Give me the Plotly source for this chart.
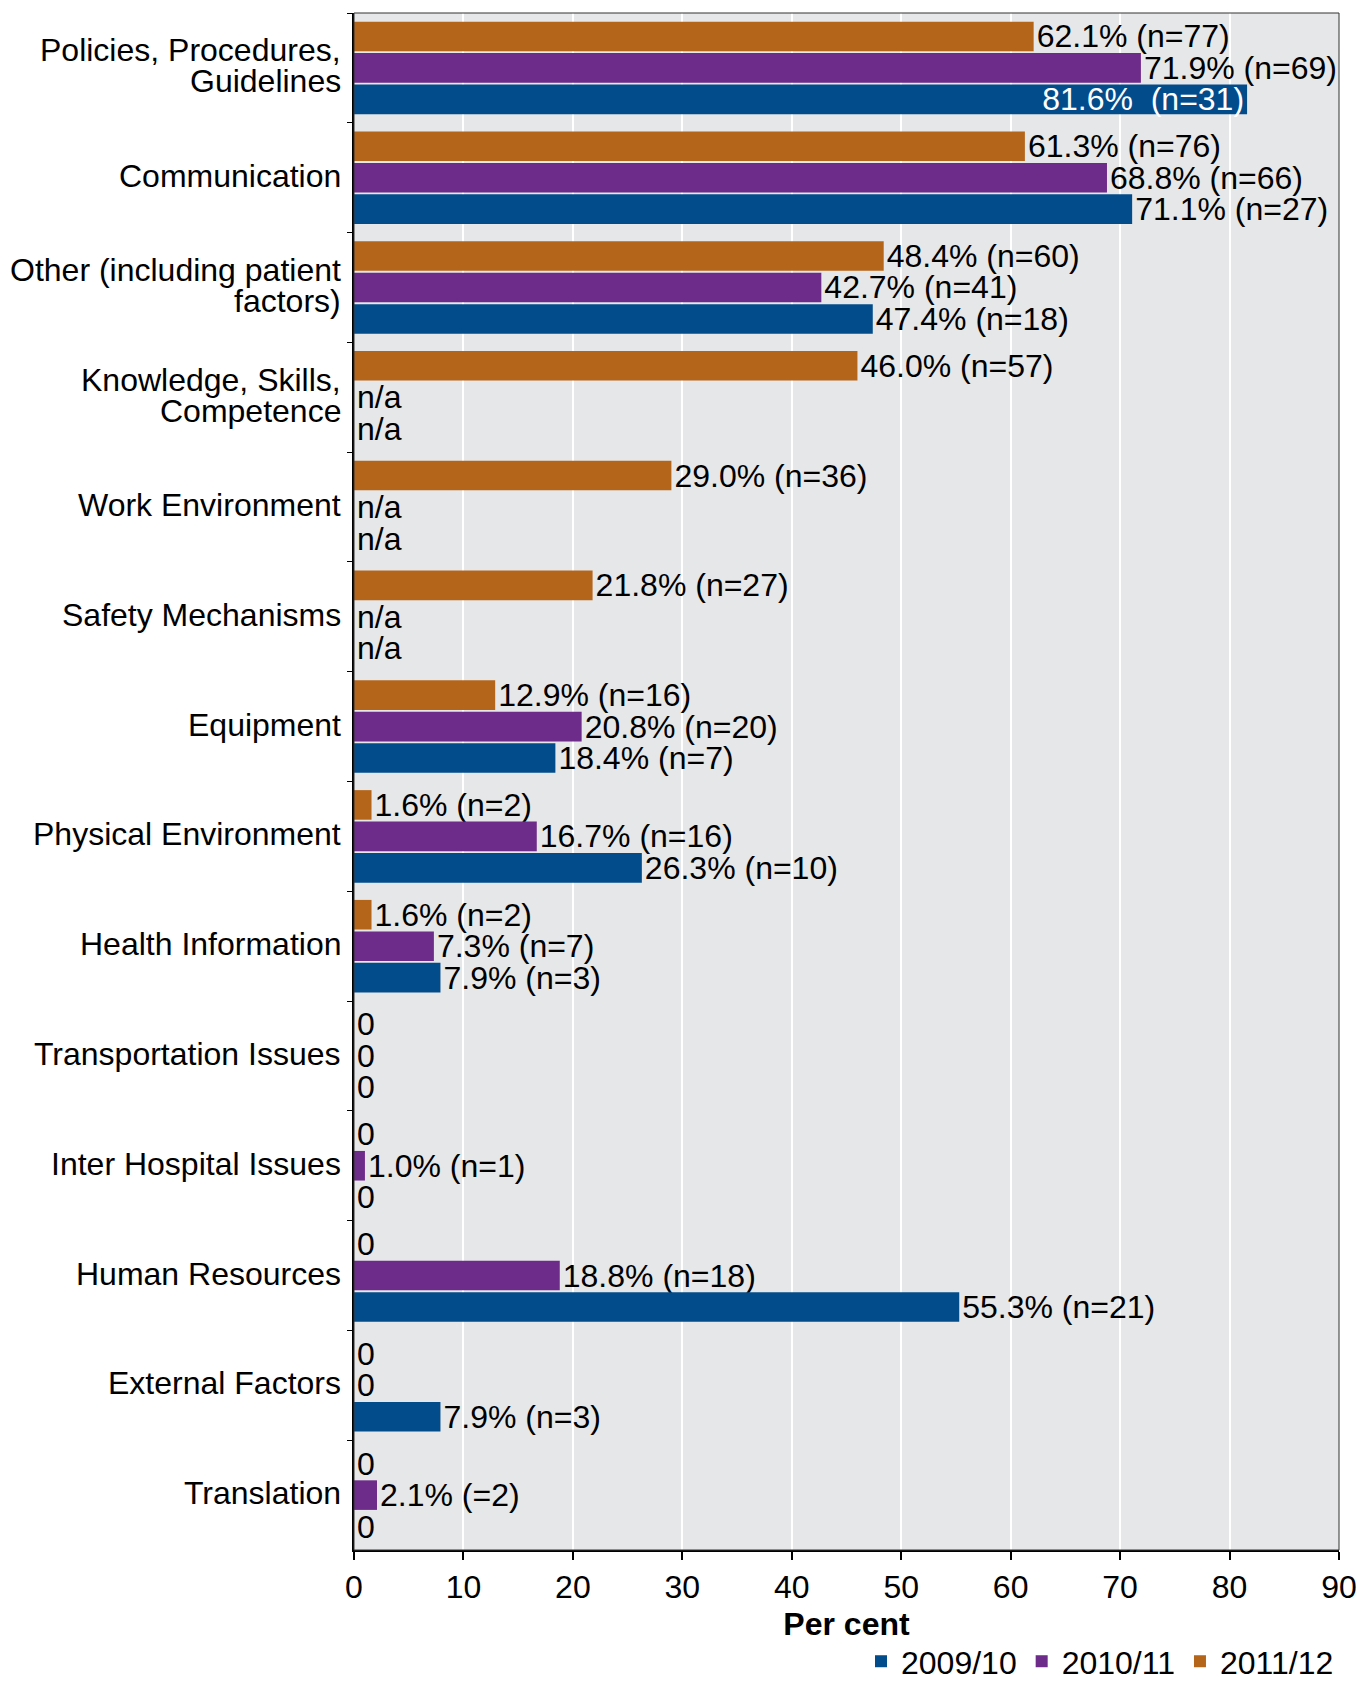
import plotly.graph_objects as go

categories = [
    "Policies, Procedures,<br>Guidelines",
    "Communication",
    "Other (including patient<br>factors)",
    "Knowledge, Skills,<br>Competence",
    "Work Environment",
    "Safety Mechanisms",
    "Equipment",
    "Physical Environment",
    "Health Information",
    "Transportation Issues",
    "Inter Hospital Issues",
    "Human Resources",
    "External Factors",
    "Translation",
]

vals_2011 = [62.1, 61.3, 48.4, 46.0, 29.0, 21.8, 12.9, 1.6, 1.6, 0, 0, 0, 0, 0]
text_2011 = ["62.1% (n=77)", "61.3% (n=76)", "48.4% (n=60)", "46.0% (n=57)", "29.0% (n=36)",
             "21.8% (n=27)", "12.9% (n=16)", "1.6% (n=2)", "1.6% (n=2)", "0", "0", "0", "0", "0"]

vals_2010 = [71.9, 68.8, 42.7, 0, 0, 0, 20.8, 16.7, 7.3, 0, 1.0, 18.8, 0, 2.1]
text_2010 = ["71.9% (n=69)", "68.8% (n=66)", "42.7% (n=41)", "n/a", "n/a", "n/a", "20.8% (n=20)",
             "16.7% (n=16)", "7.3% (n=7)", "0", "1.0% (n=1)", "18.8% (n=18)", "0", "2.1% (=2)"]

vals_2009 = [81.6, 71.1, 47.4, 0, 0, 0, 18.4, 26.3, 7.9, 0, 0, 55.3, 7.9, 0]
text_2009 = ["81.6%  (n=31)", "71.1% (n=27)", "47.4% (n=18)", "n/a", "n/a", "n/a", "18.4% (n=7)",
             "26.3% (n=10)", "7.9% (n=3)", "0", "0", "55.3% (n=21)", "7.9% (n=3)", "0"]

years = ["2009/10", "2010/11", "2011/12"]
colors = {"2009/10": "#024c8c", "2010/11": "#6d2b8a", "2011/12": "#b5651a"}

FONT = "Liberation Sans, Arial, sans-serif"
FS = 32

fig = go.Figure()

series = [("2011/12", vals_2011, text_2011), ("2010/11", vals_2010, text_2010), ("2009/10", vals_2009, text_2009)]
for name, vals, texts in series:
    positions = []
    for i, t in enumerate(texts):
        if name == "2009/10" and i == 0:
            positions.append("inside")
        else:
            positions.append("outside")
    fig.add_trace(go.Bar(
        y=categories, x=vals, name=name, orientation="h",
        marker=dict(color=colors[name], line=dict(width=0)),
        text=texts, textposition=positions, insidetextanchor="end",
        outsidetextfont=dict(family=FONT, size=FS, color="black"),
        insidetextfont=dict(family=FONT, size=FS, color="white"),
        constraintext="none", cliponaxis=False,
    ))

# category labels as annotations (tight line spacing like the reference)
annotations = []
for cat in categories:
    lines = cat.split("<br>")
    n = len(lines)
    for j, line in enumerate(lines):
        shift = (j - (n - 1) / 2) * 31
        annotations.append(dict(
            x=0, xref="paper", xanchor="right", xshift=-11,
            y=cat, yref="y", yanchor="middle", yshift=-shift + 2,
            text=line, showarrow=False, align="right",
            font=dict(family=FONT, size=FS, color="black"),
        ))

fig.update_layout(
    width=1357, height=1682,
    barmode="group", bargap=0.14, bargroupgap=0.06,
    plot_bgcolor="#e6e7e8", paper_bgcolor="white",
    margin=dict(l=354, r=18, t=13, b=132, autoexpand=False),
    font=dict(family=FONT, size=FS, color="black"),
    showlegend=True,
    legend=dict(orientation="h", x=1.0, xanchor="right", y=-0.0725, yanchor="middle",
                traceorder="reversed", font=dict(size=FS), itemwidth=30,
                bgcolor="rgba(0,0,0,0)"),
    xaxis=dict(range=[0, 90], dtick=10, showgrid=True, gridcolor="white", gridwidth=1.5,
               zeroline=False, showline=True, linecolor="black", linewidth=2, mirror=False,
               ticks="outside", ticklen=8, tickcolor="black", tickwidth=1.5,
               tickfont=dict(size=FS), automargin=False,
               title=dict(text="<b>Per cent</b>", font=dict(size=FS), standoff=8)),
    yaxis=dict(autorange="reversed", showline=True, linecolor="black", linewidth=2,
               ticks="outside", tickson="boundaries", ticklen=5, tickcolor="black",
               showticklabels=False, showgrid=False, automargin=False),
    annotations=annotations,
    shapes=[dict(type="rect", xref="paper", yref="paper", x0=0, x1=1, y0=0, y1=1,
                 line=dict(color="#333333", width=1), fillcolor="rgba(0,0,0,0)")],
)

fig.write_html("out.html", config={"displayModeBar": False},
               post_script="document.body.style.margin='0';document.body.style.padding='0';")
